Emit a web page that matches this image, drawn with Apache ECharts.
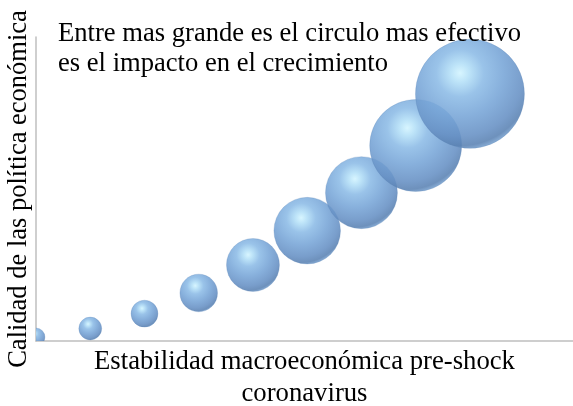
<!DOCTYPE html>
<html>
<head>
<meta charset="utf-8">
<script src="https://cdn.jsdelivr.net/npm/echarts@6/dist/echarts.min.js"></script>
<style>
  html, body { margin: 0; padding: 0; background: #ffffff; }
  #chart { width: 573px; height: 406px; }
</style>
</head>
<body>
<div id="chart"></div>
<script>
// Stability (x), policy quality (y) and growth impact (bubble size, 0-100)
const stability = [1, 2, 3, 4, 5, 6, 7, 8, 9];
const policyQuality = [1.3, 4.1, 9.0, 15.8, 25.0, 36.3, 48.8, 64.3, 81.3];
const impact = [2.7, 4.4, 6.1, 11.9, 23.6, 37.3, 43.6, 71.2, 100];

const noteText = 'Entre mas grande es el circulo mas efectivo\nes el impacto en el crecimiento';
const xName = 'Estabilidad macroeconómica pre-shock\ncoronavirus';
const yName = 'Calidad de las política económica';

const FONT = '"Liberation Serif", "Times New Roman", serif';
const MAX_RADIUS = 54.5;

const points = stability.map((x, i) => [x, policyQuality[i], impact[i]]);

// Glossy sphere shading: highlight up-left, darker lower-right, light rim
const sphereFill = () => new echarts.graphic.RadialGradient(0.41, 0.31, 0.72, [
  { offset: 0.0, color: '#d2f4ff' },
  { offset: 0.12, color: '#b3dff7' },
  { offset: 0.3, color: '#8cbbe6' },
  { offset: 0.55, color: '#77a5d7' },
  { offset: 0.8, color: '#6690c4' },
  { offset: 0.92, color: '#5a82b3' },
  { offset: 1.0, color: '#82acd9' }
]);

const chart = echarts.init(document.getElementById('chart'), null, { renderer: 'canvas' });

chart.setOption({
  animation: false,
  backgroundColor: '#ffffff',
  title: {
    text: noteText,
    left: 53,
    top: 14,
    textStyle: {
      fontFamily: FONT,
      fontSize: 26.6,
      fontWeight: 'normal',
      color: '#000000',
      lineHeight: 30
    }
  },
  grid: { left: 36, right: 0, top: 37, bottom: 65, outerBoundsMode: 'none', containLabel: false },
  xAxis: {
    type: 'value',
    min: 1,
    max: 10.9,
    name: xName,
    nameLocation: 'middle',
    nameGap: 5,
    nameTextStyle: {
      fontFamily: FONT,
      fontSize: 26.7,
      color: '#000000',
      lineHeight: 32,
      verticalAlign: 'top'
    },
    axisLine: { show: true, onZero: false, lineStyle: { color: '#bfbfbf', width: 1.5 } },
    axisTick: { show: false },
    axisLabel: { show: false },
    splitLine: { show: false }
  },
  yAxis: {
    type: 'value',
    min: 0,
    max: 100,
    name: yName,
    nameLocation: 'middle',
    nameGap: 3,
    nameTextStyle: {
      fontFamily: FONT,
      fontSize: 26.5,
      color: '#000000'
    },
    axisLine: { show: true, onZero: false, lineStyle: { color: '#bfbfbf', width: 1.5 } },
    axisTick: { show: false },
    axisLabel: { show: false },
    splitLine: { show: false }
  },
  series: [{
    type: 'custom',
    clip: true,
    data: points,
    renderItem: (params, api) => {
      const c = api.coord([api.value(0), api.value(1)]);
      const r = MAX_RADIUS * Math.sqrt(api.value(2) / 100);
      return {
        type: 'circle',
        shape: { cx: c[0], cy: c[1], r: r },
        style: {
          fill: sphereFill(),
          stroke: 'rgba(90,130,180,0.35)',
          lineWidth: 0.8,
          opacity: 0.88
        }
      };
    }
  }]
});
</script>
</body>
</html>
